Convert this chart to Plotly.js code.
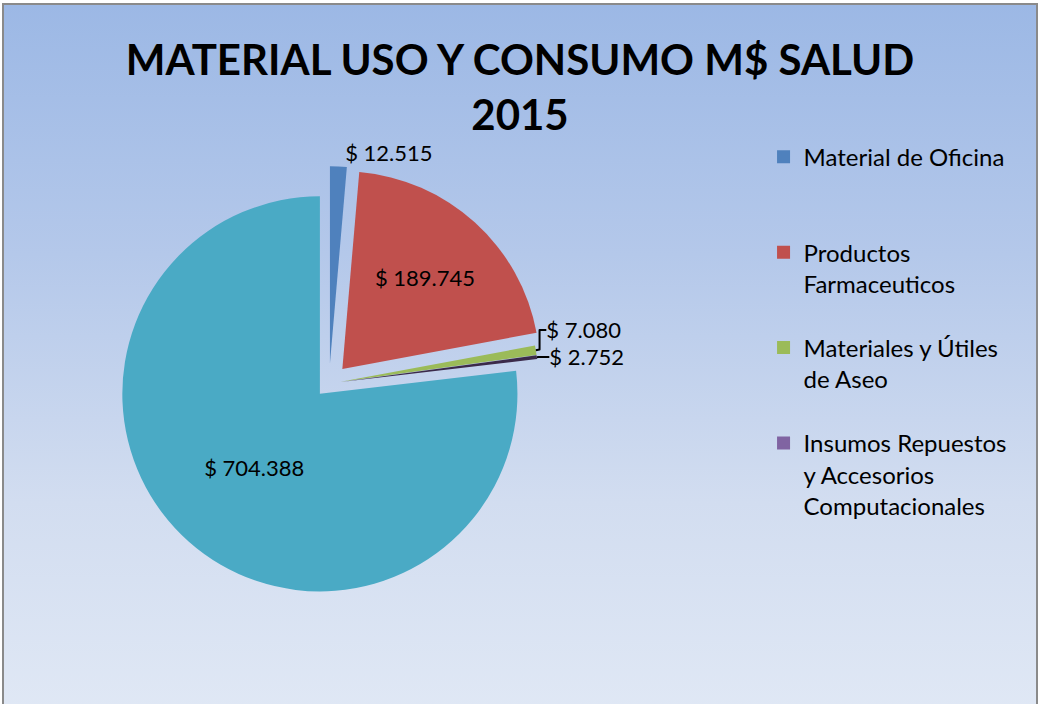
<!DOCTYPE html>
<html>
<head>
<meta charset="utf-8">
<script src="https://cdn.plot.ly/plotly-3.0.1.min.js"></script>
<style>
  html, body { margin: 0; padding: 0; background: #ffffff; width: 1038px; height: 704px; overflow: hidden; }
  #frame { position: absolute; left: 2px; top: 3px; width: 1032px; height: 710px;
    border: 2px solid #8a8a8a;
    background: linear-gradient(to bottom, #9cb8e5 0%, #b4c8ea 35%, #d2ddf0 70%, #e0e8f5 100%); }
  #chart { position: absolute; left: 0; top: 0; width: 1032px; height: 701px; }
</style>
</head>
<body>
<div id="frame"><div id="chart"></div></div>
<script>
// ---- data ----
const categories = [
  "Material de Oficina",
  "Productos Farmaceuticos",
  "Materiales y Útiles de Aseo",
  "Insumos Repuestos y Accesorios Computacionales",
  "Otros"
];
const legendLabels = [
  "Material de Oficina<br> ",
  "Productos<br>Farmaceuticos",
  "Materiales y Útiles<br>de Aseo",
  "Insumos Repuestos<br>y Accesorios<br>Computacionales"
];
const values = [12515, 189745, 7080, 2752, 704388];
const colors = ["#4f81bd", "#c0504d", "#9bbb59", "#3b2a4a", "#4aaac5"];
const legendColors = ["#4f81bd", "#c0504d", "#9bbb59", "#8064a2"];
const titleText = "MATERIAL USO Y CONSUMO M$ SALUD<br>2015";

const FONT = "Lato, 'Open Sans', sans-serif";

const pie = {
  type: "pie",
  labels: categories,
  values: values,
  sort: false,
  direction: "clockwise",
  rotation: 0,
  pull: [0.1, 0.1, 0.06, 0.06, 0.07],
  marker: { colors: colors, line: { width: 0 } },
  texttemplate: "$ %{value:,}",
  textposition: ["outside", "inside", "outside", "outside", "inside"],
  insidetextorientation: "horizontal",
  textfont: { family: FONT, size: 22, color: "#000000" },
  outsidetextfont: { family: FONT, size: 22, color: "#000000" },
  insidetextfont: { family: FONT, size: 22, color: "#000000" },
  showlegend: false,
  hoverinfo: "label+value",
  domain: { x: [0.085, 0.545], y: [0.15, 0.77] }
};

const legendTraces = legendLabels.map((name, i) => ({
  type: "scatter",
  mode: "markers",
  x: [null], y: [null],
  name: name,
  legendgroup: "g" + i,
  marker: { symbol: "square", size: 13, color: legendColors[i] },
  hoverinfo: "skip"
}));

const layout = {
  width: 1032, height: 701,
  paper_bgcolor: "rgba(0,0,0,0)",
  plot_bgcolor: "rgba(0,0,0,0)",
  separators: ",.",
  margin: { l: 0, r: 0, t: 0, b: 0 },
  title: {
    text: titleText,
    font: { family: FONT, size: 42, color: "#000000", weight: "bold" },
    x: 0.5, xanchor: "center",
    y: 0.90, yanchor: "top"
  },
  xaxis: { visible: false, range: [0, 1], fixedrange: true },
  yaxis: { visible: false, range: [0, 1], fixedrange: true },
  showlegend: true,
  legend: {
    x: 0.736, xanchor: "left",
    y: 0.815, yanchor: "top",
    bgcolor: "rgba(0,0,0,0)",
    font: { family: FONT, size: 24, color: "#000000" },
    traceorder: "grouped",
    tracegroupgap: 30,
    valign: "top",
    itemwidth: 30
  }
};

Plotly.newPlot("chart", [pie].concat(legendTraces), layout, { displayModeBar: false, staticPlot: true });
</script>
</body>
</html>
